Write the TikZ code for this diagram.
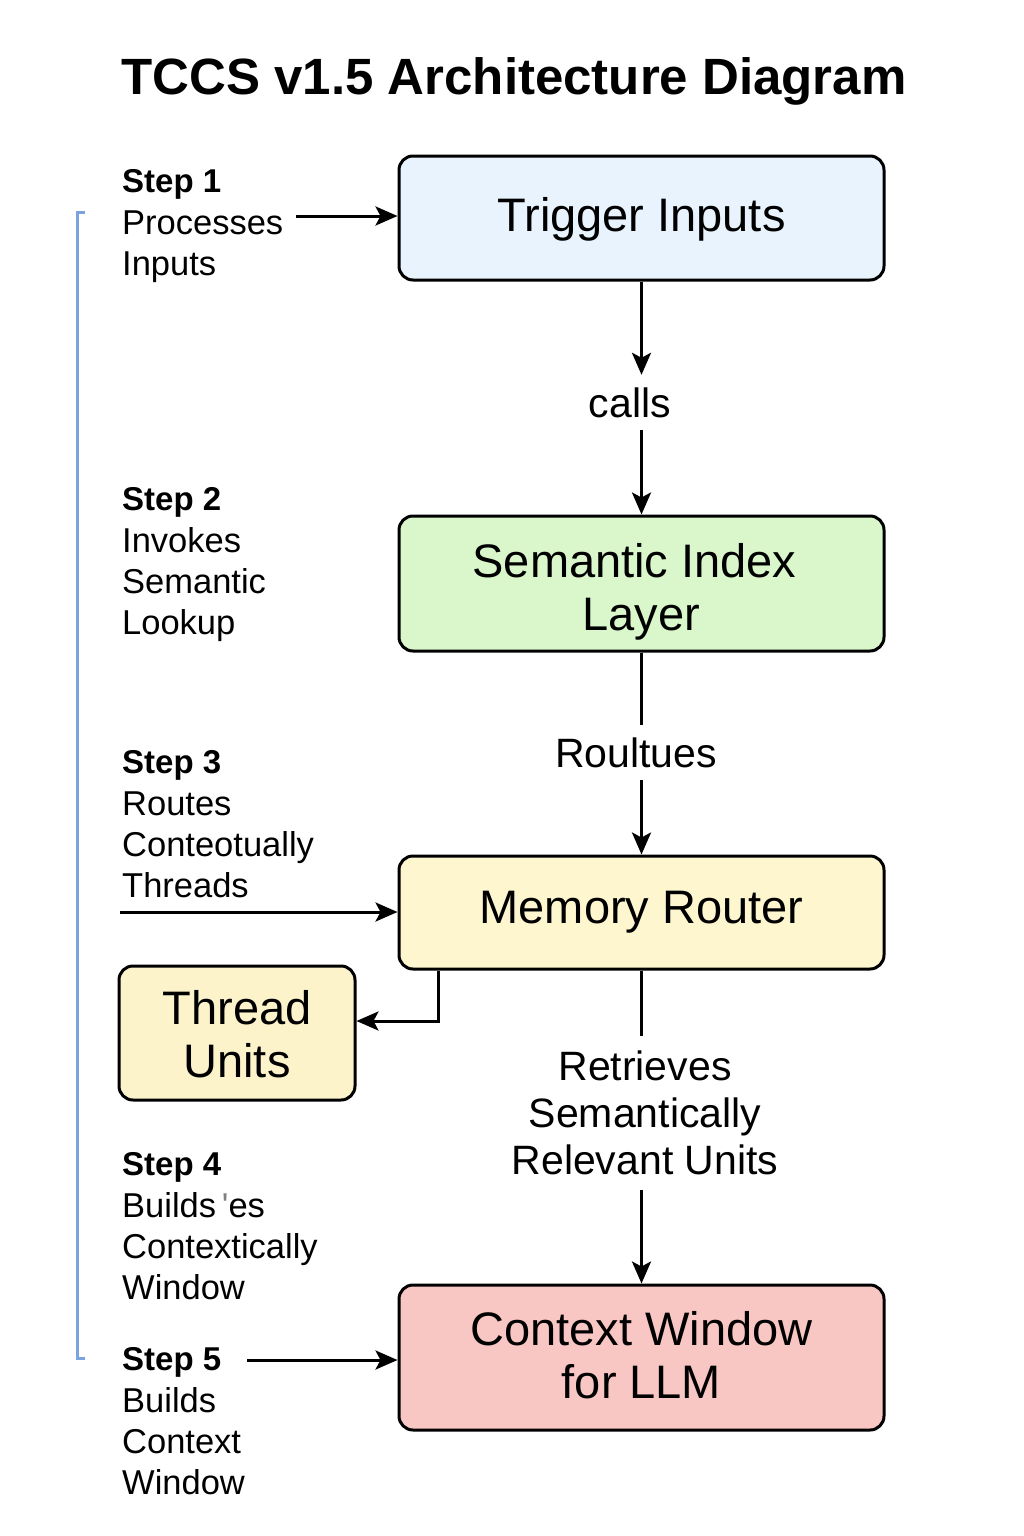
\documentclass[tikz,border=0pt]{standalone}
\usepackage{fontspec}
\setmainfont{Liberation Sans}
\usetikzlibrary{arrows.meta}
\definecolor{cTrig}{HTML}{E8F3FD}
\definecolor{cSem}{HTML}{D9F7CB}
\definecolor{cMem}{HTML}{FDF6CF}
\definecolor{cThr}{HTML}{FCF3CB}
\definecolor{cCtx}{HTML}{F9C7C3}
\definecolor{cBrk}{HTML}{7BA3E0}
\tikzset{
  box/.style={draw=black, line width=3pt, rounded corners=14pt, align=center,
    font=\fontsize{47}{53}\selectfont, inner sep=0pt},
  arr/.style={line width=3pt, -{Stealth[length=22pt,width=19pt,inset=5pt]}},
  plain/.style={line width=3pt},
  lbl/.style={font=\fontsize{41}{47}\selectfont, align=center, inner sep=0pt},
  stepb/.style={font=\bfseries\fontsize{33}{41}\selectfont, anchor=base west, inner sep=0pt},
  stept/.style={font=\fontsize{34.5}{41}\selectfont, anchor=base west, inner sep=0pt},
}
\newcommand{\boxtext}[2]{\raisebox{#1}[\height][\depth]{\begin{tabular}{@{}c@{}}#2\end{tabular}}}
\begin{document}
\begin{tikzpicture}[x=1pt,y=-1pt]
\useasboundingbox (0,0) rectangle (1024,1536);
\fill[white] (0,0) rectangle (1024,1536);

\node[font=\bfseries\fontsize{51}{60}\selectfont, inner sep=0pt] (title) at (514,81) {TCCS v1.5 Architecture Diagram};

% boxes
\node[box, fill=cTrig, minimum width=485pt, minimum height=124pt] (trig) at (641.5,218) {\boxtext{-3pt}{Trigger Inputs}};
\node[box, fill=cSem, minimum width=485pt, minimum height=135pt] (sem) at (641.5,583.5) {\boxtext{-10pt}{\hspace*{-14pt}Semantic Index\\Layer}};
\node[box, fill=cMem, minimum width=485pt, minimum height=113pt] (mem) at (641.5,912.5) {\boxtext{0pt}{Memory Router}};
\node[box, fill=cThr, minimum width=236pt, minimum height=134pt] (thr) at (237,1033) {\boxtext{-7pt}{Thread\\Units}};
\node[box, fill=cCtx, minimum width=485pt, minimum height=145pt] (ctx) at (641.5,1357.5) {\boxtext{-4pt}{Context Window\\for LLM}};

% labels between boxes
\node[lbl, minimum height=55pt] (calls) at (630,402.5) {calls};
\node[lbl, minimum height=55pt] (routes) at (636,752.5) {Roultues};
\node[lbl, minimum height=154pt] (retr) at (645,1113) {Retrieves\\Semantically\\Relevant Units};

% vertical connectors
\draw[arr] (trig.south) -- (trig.south |- calls.north);
\draw[arr] (trig.south |- calls.south) -- (sem.north);
\draw[plain] (sem.south) -- (sem.south |- routes.north);
\draw[arr] (sem.south |- routes.south) -- (mem.north);
\draw[plain] (mem.south) -- (mem.south |- retr.north);
\draw[arr] (mem.south |- retr.south) -- (ctx.north);

% memory -> thread units
\coordinate (mt) at (438,1021);
\draw[arr] (mem.south -| mt) |- (thr.east |- mt);

% step texts
\node[stepb] (s1a) at (122,192) {Step 1};
\node[stept] (s1b) at (122,234) {Processes};
\node[stept] (s1c) at (122,275) {Inputs};

\node[stepb] (s2a) at (122,510) {Step 2};
\node[stept] (s2b) at (122,552) {Invokes};
\node[stept] (s2c) at (122,593) {Semantic};
\node[stept] (s2d) at (122,634) {Lookup};

\node[stepb] (s3a) at (122,773) {Step 3};
\node[stept] (s3b) at (122,815) {Routes};
\node[stept] (s3c) at (122,856) {Conteotually};
\node[stept] (s3d) at (122,897) {Threads};

\node[stepb] (s4a) at (122,1175) {Step 4};
\node[stept] (s4b) at (122,1217) {Builds{\color{gray}\,\textquotesingle}es};
\node[stept] (s4c) at (122,1258) {Contextically};
\node[stept] (s4d) at (122,1299) {Window};

\node[stepb] (s5a) at (122,1370) {Step 5};
\node[stept] (s5b) at (122,1412) {Builds};
\node[stept] (s5c) at (122,1453) {Context};
\node[stept] (s5d) at (122,1494) {Window};

% step arrows
\coordinate (a1) at (296,216);
\draw[arr] (a1) -- (trig.west |- a1);
\coordinate (a3) at (120,912);
\draw[arr] (a3) -- (mem.west |- a3);
\coordinate (a5) at (247,1360);
\draw[arr] (a5) -- (ctx.west |- a5);

% bracket
\draw[cBrk, line width=3pt] (85,212) -- (77,212) -- (77,1358) -- (85,1358);
\end{tikzpicture}
\end{document}
